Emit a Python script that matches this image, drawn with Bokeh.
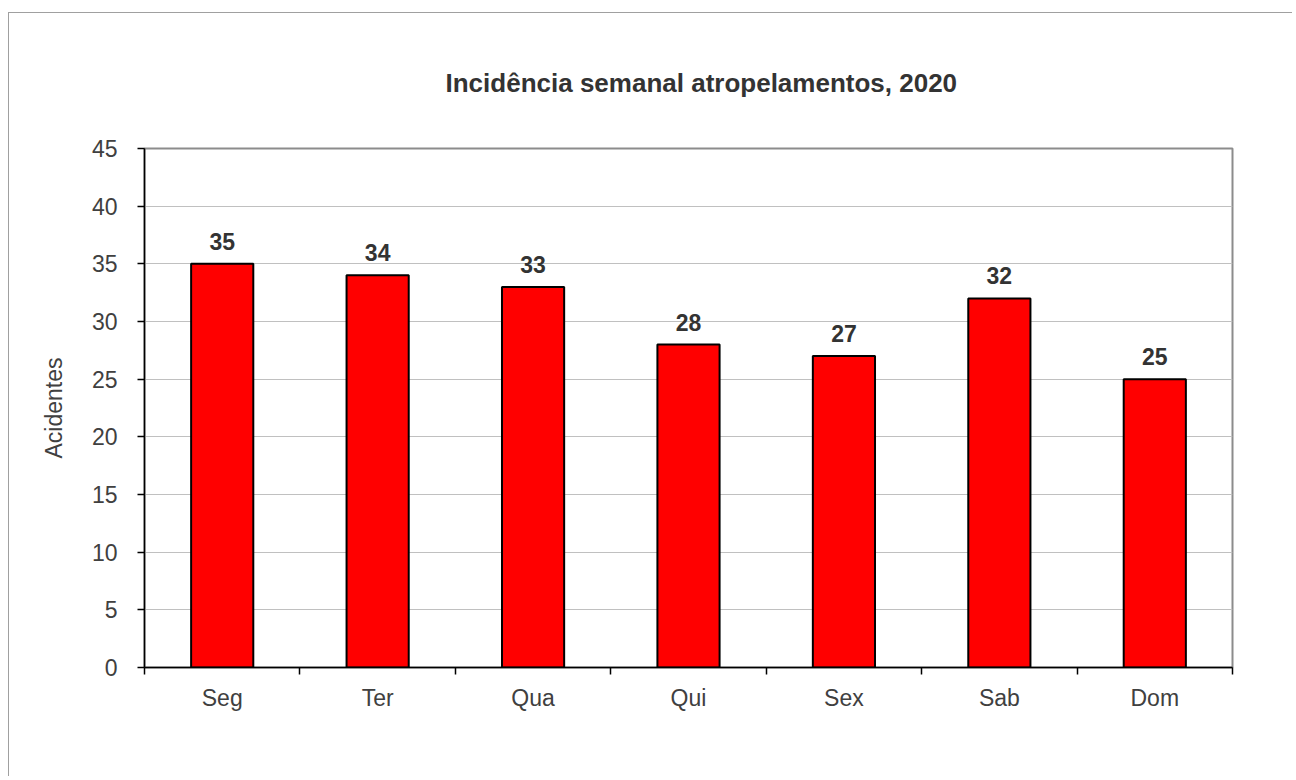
from bokeh.plotting import figure
from bokeh.models import (ColumnDataSource, FixedTicker, LinearAxis, Range1d,
                          LabelSet, Grid)
from bokeh.core.properties import value
from bokeh.embed import file_html
from bokeh.resources import INLINE

categories = ["Seg", "Ter", "Qua", "Qui", "Sex", "Sab", "Dom"]
values = [35, 34, 33, 28, 27, 32, 25]
y_ticks = [0, 5, 10, 15, 20, 25, 30, 35, 40, 45]
title_text = "Incidência semanal atropelamentos, 2020"
y_label = "Acidentes"

n = len(categories)
xs = [i + 0.5 for i in range(n)]
src = ColumnDataSource(dict(x=xs, top=values, label=[str(v) for v in values]))

FONT = "Liberation Sans"
TXT = "#404040"
OX, OY = 8, 12  # outer border offset
X0, Y0 = OX + 1, OY + 1  # canvas origin on page
W, H = 1296 - X0 - 3, 780 - Y0 - 3

p = figure(width=W, height=H, output_backend="svg", toolbar_location=None,
           x_range=Range1d(0, n), y_range=Range1d(0, 45),
           x_axis_type=None, y_axis_type=None,
           min_border_left=144 - X0, min_border_right=X0 + W - 1232,
           min_border_top=148 - Y0, min_border_bottom=Y0 + H - 667)
p.styles = {"margin-left": f"{OX}px", "margin-top": f"{OY}px",
            "border-left": "1px solid #a0a0a0", "border-top": "1px solid #a0a0a0"}
p.background_fill_color = "white"
p.border_fill_color = "white"
p.outline_line_color = "#8c8c8c"
p.outline_line_width = 2

p.title.text = title_text
p.title.align = "left"
p.title.offset = 301
p.title.standoff = 102
p.title.text_font = FONT
p.title.text_font_size = "26px"
p.title.text_font_style = "bold"
p.title.text_color = "#333333"

# y axis
yax = LinearAxis(ticker=FixedTicker(ticks=y_ticks, minor_ticks=[]))
yax.axis_line_color = "black"
yax.axis_line_width = 1.5
yax.major_tick_line_color = "black"
yax.major_tick_line_width = 1.5
yax.major_tick_out = 7
yax.major_tick_in = 0
yax.major_label_standoff = 20
yax.major_label_text_font = FONT
yax.major_label_text_font_size = "23px"
yax.major_label_text_color = TXT
yax.axis_label = y_label
yax.axis_label_text_font = FONT
yax.axis_label_text_font_size = "23px"
yax.axis_label_text_font_style = "normal"
yax.axis_label_text_color = TXT
yax.axis_label_standoff = 22
p.add_layout(yax, "left")

# x axis: labels at centres, ticks at boundaries
xax = LinearAxis(ticker=FixedTicker(ticks=xs, minor_ticks=list(range(n + 1))))
xax.major_label_overrides = {x: c for x, c in zip(xs, categories)}
xax.axis_line_color = "black"
xax.axis_line_width = 1.5
xax.major_tick_line_color = None
xax.minor_tick_line_color = "black"
xax.minor_tick_line_width = 1.5
xax.minor_tick_out = 7
xax.minor_tick_in = 0
xax.major_label_standoff = 10
xax.major_label_text_font = FONT
xax.major_label_text_font_size = "23px"
xax.major_label_text_color = TXT
p.add_layout(xax, "below")

g = Grid(dimension=1, ticker=yax.ticker, grid_line_color="#c0c0c0", grid_line_width=1.2)
p.add_layout(g)

p.vbar(x="x", top="top", width=0.4, bottom=0, source=src,
       fill_color="#ff0000", line_color="black", line_width=2)

labels = LabelSet(x="x", y="top", text="label", source=src,
                  text_align="center", text_baseline="alphabetic",
                  y_offset=14, text_font=value(FONT), text_font_size=value("23px"),
                  text_font_style="bold", text_color="#333333")
p.add_layout(labels)

open("out.html", "w").write(file_html(p, INLINE))
